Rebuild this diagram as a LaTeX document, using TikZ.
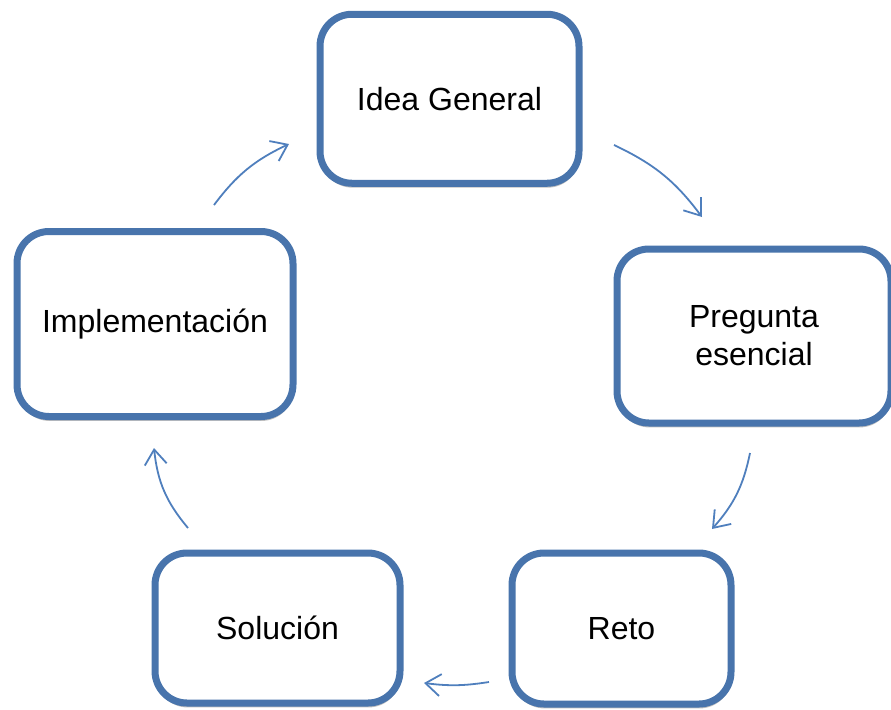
\documentclass[tikz,border=0pt]{standalone}
\usepackage{fontspec}
\setmainfont{Liberation Sans}
\usetikzlibrary{arrows.meta,shadows}
\definecolor{boxblue}{HTML}{4874AC}
\definecolor{arrowblue}{HTML}{4F7FBD}
\begin{document}
\begin{tikzpicture}[x=0.5pt, y=-0.5pt,
  stage/.style={draw=boxblue, line width=3.5pt, fill=white, rounded corners=16pt,
    align=center, font=\fontsize{16}{19}\selectfont,
    drop shadow={shadow xshift=0.3pt, shadow yshift=-2.2pt, opacity=0.25, fill=black}},
  cyclearrow/.style={draw=arrowblue, line width=0.9pt,
    -{Straight Barb[length=7.5pt, width=11pt, line width=0.9pt]}}]
\useasboundingbox (0,0) rectangle (891,709);

\node[stage, minimum width=259pt*0.5, minimum height=169pt*0.5] (idea) at (449.5,98.75) {Idea General};
\node[stage, minimum width=274pt*0.5, minimum height=174pt*0.5] (preg) at (754,336) {Pregunta\\esencial};
\node[stage, minimum width=219pt*0.5, minimum height=151pt*0.5] (reto) at (621.5,628.5) {Reto};
\node[stage, minimum width=245pt*0.5, minimum height=150pt*0.5] (sol)  at (277.5,628) {Solución};
\node[stage, minimum width=276pt*0.5, minimum height=185pt*0.5] (impl) at (155,324) {Implementación};

% free ends of the cycle arrows
\coordinate (idea-out) at (614,145);
\coordinate (preg-in)  at (702,217);
\coordinate (preg-out) at (750,453);
\coordinate (reto-in)  at (712,529);
\coordinate (reto-out) at (489,682);
\coordinate (sol-in)   at (424,683);
\coordinate (sol-out)  at (188,528);
\coordinate (impl-in)  at (154,448);
\coordinate (impl-out) at (214,205);
\coordinate (idea-in)  at (289,144);

\draw[cyclearrow] (idea-out) to[bend left=14] (preg-in);
\draw[cyclearrow] (preg-out) to[bend left=15] (reto-in);
\draw[cyclearrow] (reto-out) to[bend left=8]  (sol-in);
\draw[cyclearrow] (sol-out)  to[bend left=17] (impl-in);
\draw[cyclearrow] (impl-out) to[bend left=14] (idea-in);
\end{tikzpicture}
\end{document}
